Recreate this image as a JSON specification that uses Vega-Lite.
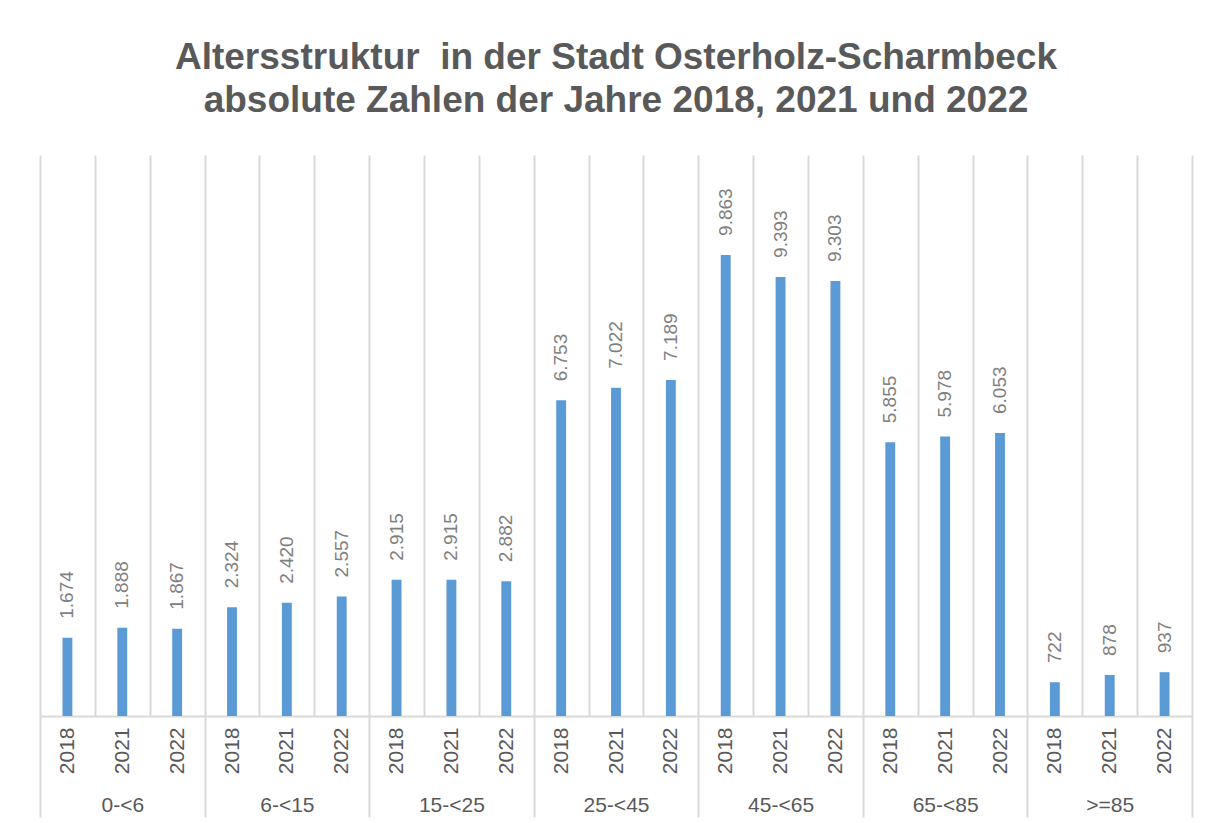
{
  "$schema": "https://vega.github.io/schema/vega-lite/v6.json",
  "width": 1152,
  "height": 561,
  "autosize": {"type": "none"},
  "padding": {"left": 40, "top": 155, "right": 17, "bottom": 107},
  "background": "white",
  "title": {
    "text": ["Altersstruktur\u00a0 in der Stadt Osterholz-Scharmbeck", "absolute Zahlen der Jahre 2018, 2021 und 2022"],
    "anchor": "middle",
    "frame": "group",
    "font": "Liberation Sans",
    "fontSize": 37,
    "fontWeight": "bold",
    "color": "#595959",
    "lineHeight": 43,
    "offset": 35
  },
  "config": {
    "view": {"stroke": null},
    "locale": {"number": {"decimal": ",", "thousands": ".", "grouping": [3], "currency": ["", " €"]}}
  },
  "data": {
    "values": [
      {"group": "0-<6", "year": "2018", "slot": "0-<6 2018", "value": 1674},
      {"group": "0-<6", "year": "2021", "slot": "0-<6 2021", "value": 1888},
      {"group": "0-<6", "year": "2022", "slot": "0-<6 2022", "value": 1867},
      {"group": "6-<15", "year": "2018", "slot": "6-<15 2018", "value": 2324},
      {"group": "6-<15", "year": "2021", "slot": "6-<15 2021", "value": 2420},
      {"group": "6-<15", "year": "2022", "slot": "6-<15 2022", "value": 2557},
      {"group": "15-<25", "year": "2018", "slot": "15-<25 2018", "value": 2915},
      {"group": "15-<25", "year": "2021", "slot": "15-<25 2021", "value": 2915},
      {"group": "15-<25", "year": "2022", "slot": "15-<25 2022", "value": 2882},
      {"group": "25-<45", "year": "2018", "slot": "25-<45 2018", "value": 6753},
      {"group": "25-<45", "year": "2021", "slot": "25-<45 2021", "value": 7022},
      {"group": "25-<45", "year": "2022", "slot": "25-<45 2022", "value": 7189},
      {"group": "45-<65", "year": "2018", "slot": "45-<65 2018", "value": 9863},
      {"group": "45-<65", "year": "2021", "slot": "45-<65 2021", "value": 9393},
      {"group": "45-<65", "year": "2022", "slot": "45-<65 2022", "value": 9303},
      {"group": "65-<85", "year": "2018", "slot": "65-<85 2018", "value": 5855},
      {"group": "65-<85", "year": "2021", "slot": "65-<85 2021", "value": 5978},
      {"group": "65-<85", "year": "2022", "slot": "65-<85 2022", "value": 6053},
      {"group": ">=85", "year": "2018", "slot": ">=85 2018", "value": 722},
      {"group": ">=85", "year": "2021", "slot": ">=85 2021", "value": 878},
      {"group": ">=85", "year": "2022", "slot": ">=85 2022", "value": 937}
    ]
  },
  "layer": [
    {
      "encoding": {
        "x": {
          "field": "slot",
          "type": "nominal",
          "sort": null,
          "scale": {"paddingInner": 0, "paddingOuter": 0},
          "axis": {
            "title": null,
            "labelExpr": "slice(datum.label, length(datum.label) - 4)",
            "labelAngle": -90,
            "labelAlign": "right",
            "labelBaseline": "middle",
            "labelFont": "Liberation Sans",
            "labelFontSize": 21,
            "labelColor": "#595959",
            "labelPadding": 11,
            "ticks": false,
            "grid": true,
            "tickBand": "extent",
            "gridColor": "#d9d9d9",
            "gridWidth": 2,
            "domain": true,
            "domainColor": "#d9d9d9",
            "domainWidth": 2
          }
        },
        "y": {
          "field": "value",
          "type": "quantitative",
          "scale": {"domain": [0, 12000]},
          "axis": null
        }
      },
      "layer": [
        {"mark": {"type": "bar", "width": {"band": 0.18}, "color": "#5B9BD5"}},
        {
          "mark": {"type": "text", "angle": 270, "align": "left", "baseline": "middle", "dx": 19, "font": "Liberation Sans", "fontSize": 19, "color": "#7f7f7f"},
          "encoding": {"text": {"field": "value", "type": "quantitative", "format": ",d"}}
        }
      ]
    },
    {
      "mark": {"type": "tick", "opacity": 0},
      "encoding": {
        "x": {
          "field": "group",
          "type": "nominal",
          "sort": null,
          "scale": {"paddingInner": 0, "paddingOuter": 0},
          "axis": {
            "title": null,
            "orient": "bottom",
            "offset": 0,
            "domain": false,
            "grid": false,
            "ticks": true,
            "tickBand": "extent",
            "tickSize": 101,
            "tickColor": "#d9d9d9",
            "tickWidth": 2,
            "labelAngle": 0,
            "labelFont": "Liberation Sans",
            "labelFontSize": 21,
            "labelColor": "#595959",
            "labelPadding": -23
          }
        }
      }
    }
  ],
  "resolve": {"scale": {"x": "independent"}, "axis": {"x": "independent"}}
}
